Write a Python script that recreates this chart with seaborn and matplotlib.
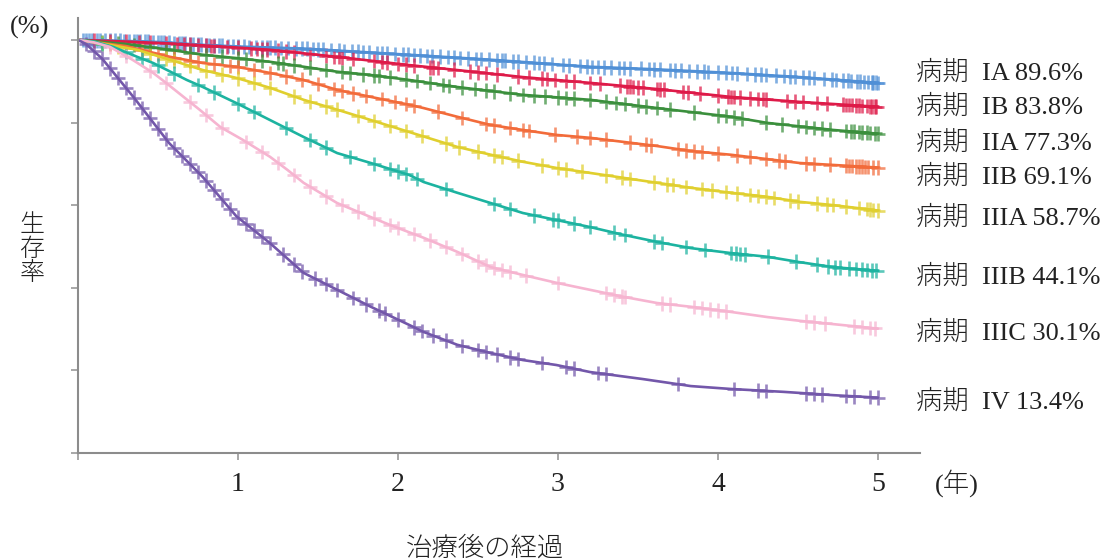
import numpy as np
import pandas as pd
import matplotlib
matplotlib.use("Agg")
import matplotlib.pyplot as plt
import seaborn as sns

# ---- survival curves (years after treatment, survival %) ----
stages = ["IA", "IB", "IIA", "IIB", "IIIA", "IIIB", "IIIC", "IV"]
five_year = [89.6, 83.8, 77.3, 69.1, 58.7, 44.1, 30.1, 13.4]

ia_t = [0, 0.25, 0.5, 0.78, 1.0, 1.41, 2.07, 2.58, 3.2, 3.6, 4.08, 4.51, 5.0]
ia_s = [100, 99.8, 99.5, 98.8, 98.4, 97.9, 96.4, 95.2, 93.5, 92.9, 92.0, 91.0, 89.6]

ib_t = [0, 0.3, 0.6, 0.9, 1.2, 1.62, 2.07, 2.37, 2.78, 3.2, 3.62, 4.08, 4.51, 5.0]
ib_s = [100, 99.6, 99.1, 98.4, 97.6, 95.9, 93.9, 92.7, 91.0, 89.6, 88.1, 86.2, 85.0, 83.8]

iia_t = [0, 0.3, 0.575, 0.78, 0.99, 1.2, 1.41, 1.62, 1.83, 2.07, 2.37, 2.78, 3.2,
         3.62, 4.08, 4.31, 4.72, 5.0]
iia_s = [100, 99.0, 97.6, 96.4, 95.6, 94.7, 93.5, 92.3, 91.5, 90.3, 88.6, 86.7, 85.5,
         83.5, 81.4, 79.9, 78.2, 77.3]

iib_t = [0, 0.3, 0.575, 0.78, 0.99, 1.2, 1.41, 1.62, 1.83, 2.07, 2.16, 2.37, 2.58,
         2.78, 2.99, 3.2, 3.41, 3.62, 3.83, 4.08, 4.51, 5.0]
iib_s = [100, 98.5, 95.9, 94.4, 93.5, 92.0, 90.3, 87.9, 86.2, 84.3, 83.5, 81.4, 79.4,
         78.2, 77.0, 76.3, 75.3, 74.3, 73.1, 72.2, 70.2, 69.1]

iiia_t = [0, 0.2, 0.37, 0.575, 0.78, 0.99, 1.2, 1.41, 1.62, 1.83, 2.07, 2.37, 2.58,
          2.78, 2.99, 3.2, 3.41, 3.62, 3.83, 4.08, 4.31, 4.51, 4.72, 5.0]
iiia_s = [100, 98.8, 97.6, 95.2, 92.7, 90.8, 88.4, 85.5, 83.1, 80.6, 77.7, 74.1, 72.2,
          70.5, 69.0, 67.8, 66.6, 65.4, 64.2, 63.0, 62.0, 60.8, 60.0, 58.7]

iiib_t = [0, 0.1, 0.22, 0.37, 0.47, 0.68, 0.78, 0.99, 1.2, 1.41, 1.62, 1.83, 2.07,
          2.16, 2.37, 2.58, 2.78, 2.99, 3.2, 3.41, 3.62, 3.83, 4.08, 4.31, 4.51, 4.72, 5.0]
iiib_s = [100, 99.6, 98.3, 95.9, 94.4, 90.3, 88.6, 84.7, 80.6, 76.5, 72.6, 70.2, 67.3,
          65.6, 63.0, 60.5, 58.1, 56.4, 54.7, 52.8, 51.1, 49.6, 48.4, 47.5, 46.2, 45.0, 44.1]

iiic_t = [0, 0.1, 0.2, 0.34, 0.47, 0.55, 0.76, 0.89, 1.03, 1.2, 1.31, 1.41, 1.62, 1.83,
          1.95, 2.16, 2.37, 2.58, 2.78, 2.99, 3.2, 3.41, 3.62, 3.83, 4.09, 4.31, 4.51,
          4.72, 5.0]
iiic_s = [100, 99.4, 98.3, 95.2, 92.0, 89.6, 83.1, 78.9, 75.8, 71.7, 68.5, 65.4, 60.5,
          57.1, 55.2, 52.1, 48.7, 45.0, 43.1, 41.2, 39.5, 37.8, 36.3, 35.4, 34.1, 32.9,
          32.0, 31.2, 30.1]

iv_t = [0, 0.05, 0.15, 0.35, 0.57, 0.78, 0.99, 1.2, 1.41, 1.62, 1.83, 2.07, 2.16, 2.37,
        2.58, 2.78, 2.99, 3.2, 3.53, 3.83, 4.08, 4.41, 4.72, 5.0]
iv_s = [100, 99.0, 95.5, 86.0, 75.0, 66.8, 57.3, 50.8, 43.6, 39.5, 35.4, 31.0, 29.3,
        26.2, 24.2, 22.5, 21.3, 19.6, 17.9, 16.2, 15.5, 14.8, 14.0, 13.4]

# ---- censoring times (years) ----
ia_cens = [0.03, 0.05, 0.07, 0.09, 0.12, 0.14, 0.17, 0.2, 0.23, 0.26, 0.29, 0.32, 0.35,
           0.37, 0.39, 0.42, 0.44, 0.47, 0.5, 0.52, 0.54, 0.57, 0.6, 0.63, 0.65, 0.67,
           0.7, 0.72, 0.75, 0.77, 0.8, 0.82, 0.85, 0.88, 0.9, 0.94, 0.97, 1.0, 1.04,
           1.07, 1.11, 1.15, 1.18, 1.2, 1.23, 1.27, 1.31, 1.36, 1.4, 1.43, 1.47, 1.5,
           1.53, 1.58, 1.63, 1.66, 1.71, 1.75, 1.78, 1.82, 1.87, 1.9, 1.93, 1.98, 2.03,
           2.06, 2.1, 2.14, 2.18, 2.21, 2.26, 2.31, 2.35, 2.39, 2.44, 2.49, 2.52, 2.57,
           2.62, 2.65, 2.67, 2.72, 2.75, 2.8, 2.85, 2.88, 2.91, 2.96, 3.03, 3.07, 3.14,
           3.18, 3.21, 3.25, 3.29, 3.33, 3.38, 3.41, 3.45, 3.52, 3.57, 3.6, 3.64, 3.7,
           3.73, 3.77, 3.82, 3.87, 3.91, 3.94, 4.0, 4.05, 4.09, 4.12, 4.18, 4.23, 4.27,
           4.3, 4.36, 4.41, 4.45, 4.48, 4.53, 4.57, 4.6, 4.66, 4.71, 4.74, 4.78, 4.81,
           4.83, 4.87, 4.89, 4.91, 4.94, 4.96, 4.97, 4.99, 5.0]
ib_cens = [0.1, 0.2, 0.3, 0.38, 0.45, 0.55, 0.62, 0.66, 0.7, 0.75, 0.8, 0.83, 0.85,
           0.93, 1.0, 1.08, 1.12, 1.15, 1.18, 1.25, 1.3, 1.35, 1.45, 1.55, 1.6, 1.63,
           1.65, 1.72, 1.85, 1.9, 1.93, 2.0, 2.05, 2.1, 2.2, 2.22, 2.25, 2.35, 2.45, 2.5,
           2.55, 2.62, 2.75, 2.82, 2.9, 2.93, 2.98, 3.05, 3.1, 3.2, 3.26, 3.39, 3.43,
           3.45, 3.47, 3.5, 3.53, 3.62, 3.64, 3.66, 3.78, 3.81, 3.89, 4.0, 4.06, 4.08,
           4.1, 4.14, 4.2, 4.25, 4.28, 4.3, 4.43, 4.48, 4.53, 4.62, 4.68, 4.78, 4.8,
           4.82, 4.84, 4.86, 4.88, 4.9, 4.93, 4.95, 4.96, 4.98, 4.99]
iia_cens = [0.15, 0.25, 0.35, 0.45, 0.55, 0.6, 0.7, 0.8, 0.9, 1.0, 1.05, 1.15, 1.25,
            1.28, 1.35, 1.45, 1.55, 1.65, 1.7, 1.78, 1.85, 1.88, 1.95, 2.05, 2.12, 2.2,
            2.28, 2.32, 2.4, 2.48, 2.55, 2.6, 2.7, 2.78, 2.85, 2.92, 3.0, 3.05, 3.1,
            3.2, 3.3, 3.36, 3.42, 3.5, 3.55, 3.62, 3.7, 3.85, 4.0, 4.05, 4.1, 4.15, 4.3,
            4.4, 4.5, 4.55, 4.6, 4.65, 4.7, 4.8, 4.83, 4.85, 4.88, 4.9, 4.93, 4.95,
            4.98, 5.0]
iib_cens = [0.2, 0.3, 0.4, 0.5, 0.6, 0.7, 0.75, 0.85, 0.95, 1.0, 1.1, 1.2, 1.3, 1.4,
            1.5, 1.6, 1.65, 1.72, 1.8, 1.9, 1.98, 2.05, 2.1, 2.25, 2.4, 2.55, 2.6, 2.7,
            2.78, 2.82, 2.98, 3.12, 3.2, 3.3, 3.45, 3.55, 3.58, 3.75, 3.8, 3.85, 3.9,
            4.0, 4.12, 4.2, 4.3, 4.38, 4.42, 4.55, 4.6, 4.7, 4.8, 4.82, 4.84, 4.86,
            4.88, 4.9, 4.92, 4.94, 4.97, 5.0]
iiia_cens = [0.15, 0.25, 0.3, 0.45, 0.55, 0.6, 0.7, 0.8, 0.9, 1.0, 1.1, 1.2, 1.35,
             1.45, 1.55, 1.62, 1.75, 1.85, 1.95, 2.05, 2.15, 2.3, 2.38, 2.5, 2.6, 2.65,
             2.75, 2.9, 3.0, 3.05, 3.15, 3.3, 3.4, 3.45, 3.6, 3.68, 3.72, 3.8, 3.9,
             3.96, 4.05, 4.12, 4.2, 4.25, 4.3, 4.35, 4.45, 4.5, 4.62, 4.68, 4.72, 4.8,
             4.88, 4.93, 4.95, 4.97, 5.0]
iiib_cens = [0.15, 0.3, 0.4, 0.5, 0.6, 0.75, 0.85, 1.0, 1.1, 1.3, 1.45, 1.55, 1.7,
             1.85, 1.95, 2.0, 2.05, 2.12, 2.3, 2.6, 2.7, 2.85, 2.97, 3.0, 3.1, 3.2,
             3.35, 3.42, 3.6, 3.65, 3.8, 3.92, 4.08, 4.11, 4.14, 4.17, 4.31, 4.49,
             4.62, 4.69, 4.73, 4.76, 4.82, 4.86, 4.9, 4.93, 4.96, 4.99]
iiic_cens = [0.2, 0.3, 0.45, 0.55, 0.7, 0.8, 0.9, 1.05, 1.15, 1.25, 1.35, 1.45, 1.55,
             1.65, 1.75, 1.85, 1.95, 2.0, 2.1, 2.2, 2.3, 2.4, 2.5, 2.55, 2.6, 2.65,
             2.7, 2.8, 3.0, 3.3, 3.35, 3.4, 3.42, 3.65, 3.7, 3.85, 3.9, 3.95, 4.0,
             4.05, 4.55, 4.6, 4.67, 4.85, 4.9, 4.95, 4.98]
iv_cens = [0.05, 0.1, 0.15, 0.2, 0.25, 0.3, 0.35, 0.4, 0.45, 0.5, 0.55, 0.6, 0.65,
           0.7, 0.75, 0.8, 0.85, 0.9, 0.95, 1.0, 1.05, 1.1, 1.15, 1.2, 1.28, 1.35, 1.4,
           1.48, 1.55, 1.62, 1.72, 1.8, 1.88, 1.92, 2.0, 2.1, 2.15, 2.22, 2.3, 2.4,
           2.5, 2.55, 2.62, 2.7, 2.75, 2.9, 3.05, 3.1, 3.25, 3.3, 3.75, 4.1, 4.25,
           4.3, 4.55, 4.6, 4.65, 4.8, 4.85, 4.95, 5.0]

x_ticks = [0, 1, 2, 3, 4, 5]
x_ticklabels = ["", "1", "2", "3", "4", "5"]
y_ticks = [0, 20, 40, 60, 80, 100]

colors = ["#4f8fd6", "#de1a48", "#3a8f3c", "#f26b3a", "#e0cf2e",
          "#1cb3a0", "#f6b4d0", "#7357aa"]
label_dy = [7.2, 0.0, -6.5, -6.5, -5.0, -4.3, -2.9, -2.9]   # points

curves_t = [ia_t, ib_t, iia_t, iib_t, iiia_t, iiib_t, iiic_t, iv_t]
curves_s = [ia_s, ib_s, iia_s, iib_s, iiia_s, iiib_s, iiic_s, iv_s]
censors = [ia_cens, ib_cens, iia_cens, iib_cens, iiia_cens, iiib_cens, iiic_cens, iv_cens]

lines = pd.concat(
    [pd.DataFrame({"stage": st, "t": t, "s": s})
     for st, t, s in zip(stages, curves_t, curves_s)], ignore_index=True)
marks = pd.concat(
    [pd.DataFrame({"stage": st, "t": c, "s": np.interp(c, t, s)})
     for st, t, s, c in zip(stages, curves_t, curves_s, censors)], ignore_index=True)
palette = dict(zip(stages, colors))

sns.set_theme(style="white")
plt.rcParams["font.family"] = ["Liberation Serif", "Noto Sans CJK JP"]

W, H = 1108, 559
fig = plt.figure(figsize=(W / 100, H / 100), dpi=100)
ax = fig.add_axes([78 / W, (H - 453) / H, (920 - 78) / W, (453 - 18) / H])

sns.lineplot(data=lines, x="t", y="s", hue="stage", palette=palette,
             estimator=None, sort=False, legend=False, linewidth=1.9, ax=ax)
sns.scatterplot(data=marks, x="t", y="s", hue="stage", palette=palette,
                marker="+", s=110, linewidth=1.9, alpha=0.72, legend=False, ax=ax)

ax.set_xlim(0, 5.2625)
ax.set_ylim(0, 105.3)
ax.set_xticks(x_ticks)
ax.set_xticklabels(x_ticklabels, fontsize=20)
ax.set_yticks(y_ticks)
ax.set_yticklabels([])
ax.set_xlabel("")
ax.set_ylabel("")
for side in ["top", "right"]:
    ax.spines[side].set_visible(False)
for side in ["left", "bottom"]:
    ax.spines[side].set_color("#8c8c8c")
    ax.spines[side].set_linewidth(1.5)
ax.tick_params(axis="both", direction="out", length=5, width=1.2,
               color="#9a9a9a", labelcolor="#222222")
ax.tick_params(axis="x", pad=9)
ax.tick_params(left=True, bottom=True)

for st, pct, dy in zip(stages, five_year, label_dy):
    ax.annotate(f"病期  {st} {pct:.1f}%", xy=(5.24, pct), xytext=(0, dy),
                textcoords="offset points", ha="left", va="center",
                fontsize=19, color="#222222", fontweight="light",
                annotation_clip=False)

fig.text(10 / W, 1 - 27 / H, "(%)", ha="left", va="center", fontsize=19, color="#222222")
fig.text(32 / W, 1 - 250 / H, "生\n存\n率", ha="center", va="center",
         fontsize=18, linespacing=1.05, color="#222222", fontweight="light")
fig.text(935 / W, 1 - 483 / H, "(年)", ha="left", va="center", fontsize=19,
         color="#222222", fontweight="light")
fig.text(485 / W, 1 - 548 / H, "治療後の経過", ha="center", va="center",
         fontsize=19, color="#222222", fontweight="light")

fig.savefig("out.png", dpi=100)
